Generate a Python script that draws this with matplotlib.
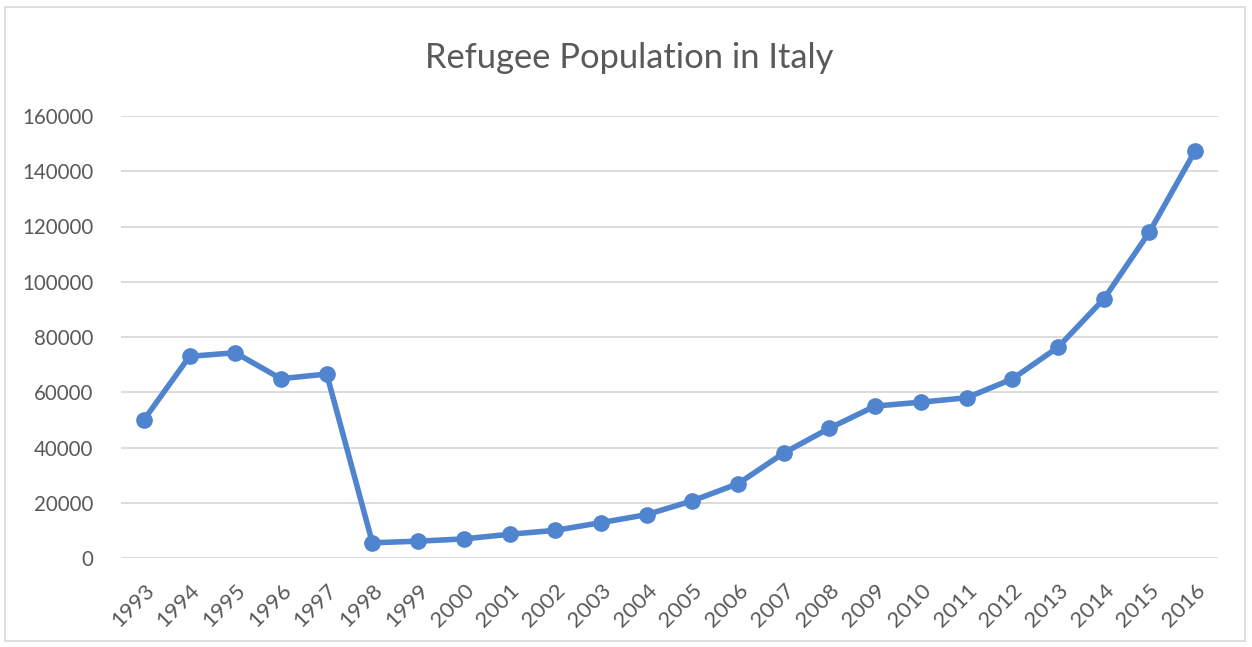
import matplotlib
matplotlib.use("Agg")
import matplotlib.pyplot as plt
from matplotlib.patches import Rectangle

years = [str(y) for y in range(1993, 2017)]
refugees = [50000, 73000, 74300, 64900, 66600, 5500, 6100, 6900, 8600, 10000,
            12800, 15700, 20700, 26900, 38000, 47000, 55000, 56400, 58000, 64800,
            76300, 93700, 118000, 147400]
yticks = [0, 20000, 40000, 60000, 80000, 100000, 120000, 140000, 160000]

plt.rcParams.update({"font.family": ["Lato", "DejaVu Sans"]})
TXT = "#595959"
LINE = "#5084CE"

W, H = 1252, 647
fig = plt.figure(figsize=(W / 100, H / 100), dpi=100)
ax = fig.add_axes([121 / W, 1 - 558 / H, (1218 - 121) / W, (558 - 116) / H])

x = range(len(years))
ax.plot(x, refugees, color=LINE, lw=4.0, marker="o", ms=11,
        solid_joinstyle="round", zorder=3)

ax.set_xlim(-0.5, len(years) - 0.5)
ax.set_ylim(0, 160000)
ax.set_yticks(yticks)
ax.set_yticklabels([str(v) for v in yticks], fontsize=14.8, color=TXT)
ax.set_xticks(list(x))
ax.set_xticklabels(years, rotation=45, ha="right", rotation_mode="anchor",
                   fontsize=16, color=TXT)
ax.tick_params(length=0, axis="y", pad=20)
ax.tick_params(length=0, axis="x", pad=16)
ax.grid(axis="y", color="#d9d9d9", lw=1.3)
ax.set_axisbelow(True)
for s in ax.spines.values():
    s.set_visible(False)

fig.text(629 / W, 1 - 58 / H, "Refugee Population in Italy", ha="center",
         va="center", fontsize=24.8, color=TXT)

# light frame around the whole chart
fig.patches.append(Rectangle((5 / W, 6 / H), 1240 / W, 634 / H,
                             transform=fig.transFigure, fill=False,
                             ec="#d9d9d9", lw=1.2))

fig.savefig("out.png", dpi=100)
